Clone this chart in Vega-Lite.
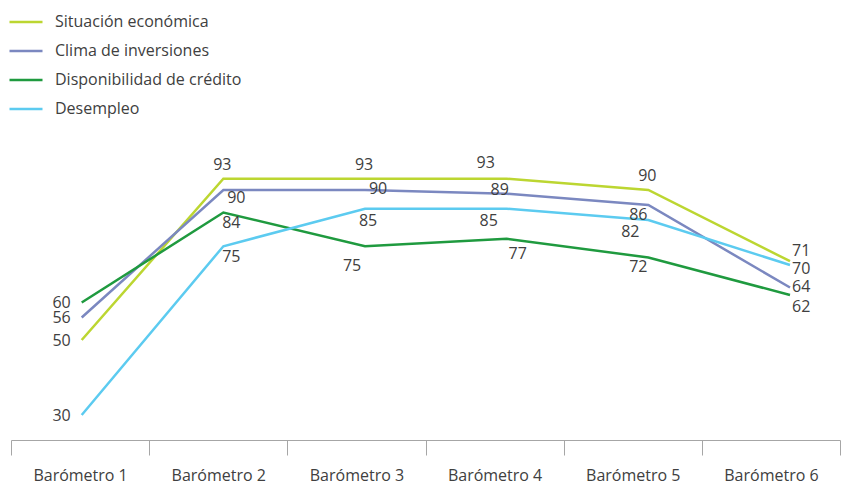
{
  "$schema": "https://vega.github.io/schema/vega-lite/v6.json",
  "width": 829,
  "height": 291,
  "autosize": {"type": "none"},
  "padding": {"left": 11, "top": 149, "right": 4, "bottom": 45},
  "background": "white",
  "config": {
    "view": {"stroke": null},
    "font": "Open Sans",
    "text": {"font": "Open Sans", "fontSize": 16, "color": "#404040", "baseline": "middle", "align": "center"},
    "axis": {
      "labelFont": "Open Sans",
      "labelFontSize": 16,
      "labelColor": "#404040",
      "domainColor": "#a6a6a6",
      "tickColor": "#a6a6a6",
      "grid": false
    },
    "legend": {"labelFont": "Open Sans", "labelFontSize": 16, "labelColor": "#404040"}
  },
  "data": {
    "values": [
      {"b": "Barómetro 1", "s": "Situación económica", "v": 50},
      {"b": "Barómetro 2", "s": "Situación económica", "v": 93},
      {"b": "Barómetro 3", "s": "Situación económica", "v": 93},
      {"b": "Barómetro 4", "s": "Situación económica", "v": 93},
      {"b": "Barómetro 5", "s": "Situación económica", "v": 90},
      {"b": "Barómetro 6", "s": "Situación económica", "v": 71},
      {"b": "Barómetro 1", "s": "Clima de inversiones", "v": 56},
      {"b": "Barómetro 2", "s": "Clima de inversiones", "v": 90},
      {"b": "Barómetro 3", "s": "Clima de inversiones", "v": 90},
      {"b": "Barómetro 4", "s": "Clima de inversiones", "v": 89},
      {"b": "Barómetro 5", "s": "Clima de inversiones", "v": 86},
      {"b": "Barómetro 6", "s": "Clima de inversiones", "v": 64},
      {"b": "Barómetro 1", "s": "Disponibilidad de crédito", "v": 60},
      {"b": "Barómetro 2", "s": "Disponibilidad de crédito", "v": 84},
      {"b": "Barómetro 3", "s": "Disponibilidad de crédito", "v": 75},
      {"b": "Barómetro 4", "s": "Disponibilidad de crédito", "v": 77},
      {"b": "Barómetro 5", "s": "Disponibilidad de crédito", "v": 72},
      {"b": "Barómetro 6", "s": "Disponibilidad de crédito", "v": 62},
      {"b": "Barómetro 1", "s": "Desempleo", "v": 30},
      {"b": "Barómetro 2", "s": "Desempleo", "v": 75},
      {"b": "Barómetro 3", "s": "Desempleo", "v": 85},
      {"b": "Barómetro 4", "s": "Desempleo", "v": 85},
      {"b": "Barómetro 5", "s": "Desempleo", "v": 82},
      {"b": "Barómetro 6", "s": "Desempleo", "v": 70}
    ]
  },
  "layer": [
    {
      "mark": {"type": "rule", "opacity": 0},
      "encoding": {
        "x": {
          "field": "b",
          "type": "nominal",
          "scale": {"type": "band", "paddingInner": 0, "paddingOuter": 0},
          "axis": {
            "title": null,
            "labelAngle": 0,
            "tickBand": "extent",
            "tickSize": 15,
            "labelPadding": 12,
            "domainWidth": 1,
            "tickWidth": 1
          }
        }
      }
    },
    {
      "encoding": {
        "x": {
          "field": "b",
          "type": "nominal",
          "scale": {"type": "point", "padding": 0, "range": [70.7, 779]},
          "axis": null
        },
        "y": {
          "field": "v",
          "type": "quantitative",
          "scale": {"domain": [23.33, 100.93], "zero": false, "nice": false},
          "axis": null
        }
      },
      "layer": [
        {
          "mark": {"type": "line", "strokeWidth": 2.5},
          "encoding": {
            "color": {
              "field": "s",
              "type": "nominal",
              "scale": {
                "domain": ["Situación económica", "Clima de inversiones", "Disponibilidad de crédito", "Desempleo"],
                "range": ["#bcd631", "#7b88c0", "#1f9a3f", "#5ccbf0"]
              },
              "legend": {
                "orient": "none",
                "legendX": -3,
                "legendY": -145,
                "title": null,
                "symbolType": "stroke",
                "symbolSize": 1089,
                "symbolStrokeWidth": 2.5,
                "labelOffset": 11,
                "labelLimit": 400,
                "rowPadding": 3,
                "padding": 0
              }
            }
          }
        },
        {
          "transform": [{"filter": "datum.b == 'Barómetro 1'"}],
          "mark": {"type": "text", "align": "right", "dx": -11, "dy": 1},
          "encoding": {"text": {"field": "v"}}
        },
        {
          "transform": [{"filter": "indexof(['Situación económica|Barómetro 2','Situación económica|Barómetro 3','Situación económica|Barómetro 5'], datum.s + '|' + datum.b) >= 0"}],
          "mark": {"type": "text", "dx": -1, "dy": -14},
          "encoding": {"text": {"field": "v"}}
        },
        {
          "transform": [{"filter": "datum.s + '|' + datum.b == 'Situación económica|Barómetro 4'"}],
          "mark": {"type": "text", "dx": -21, "dy": -16},
          "encoding": {"text": {"field": "v"}}
        },
        {
          "transform": [{"filter": "datum.s + '|' + datum.b == 'Clima de inversiones|Barómetro 2'"}],
          "mark": {"type": "text", "dx": 13, "dy": 8},
          "encoding": {"text": {"field": "v"}}
        },
        {
          "transform": [{"filter": "datum.s + '|' + datum.b == 'Clima de inversiones|Barómetro 3'"}],
          "mark": {"type": "text", "dx": 13, "dy": -1},
          "encoding": {"text": {"field": "v"}}
        },
        {
          "transform": [{"filter": "datum.s + '|' + datum.b == 'Clima de inversiones|Barómetro 4'"}],
          "mark": {"type": "text", "dx": -7, "dy": -4},
          "encoding": {"text": {"field": "v"}}
        },
        {
          "transform": [{"filter": "indexof(['Clima de inversiones|Barómetro 5','Disponibilidad de crédito|Barómetro 5'], datum.s + '|' + datum.b) >= 0"}],
          "mark": {"type": "text", "dx": -10, "dy": 10},
          "encoding": {"text": {"field": "v"}}
        },
        {
          "transform": [{"filter": "indexof(['Disponibilidad de crédito|Barómetro 2','Desempleo|Barómetro 2'], datum.s + '|' + datum.b) >= 0"}],
          "mark": {"type": "text", "dx": 8, "dy": 11},
          "encoding": {"text": {"field": "v"}}
        },
        {
          "transform": [{"filter": "datum.s + '|' + datum.b == 'Desempleo|Barómetro 3'"}],
          "mark": {"type": "text", "dx": 3, "dy": 12},
          "encoding": {"text": {"field": "v"}}
        },
        {
          "transform": [{"filter": "indexof(['Desempleo|Barómetro 4','Desempleo|Barómetro 5'], datum.s + '|' + datum.b) >= 0"}],
          "mark": {"type": "text", "dx": -18, "dy": 12},
          "encoding": {"text": {"field": "v"}}
        },
        {
          "transform": [{"filter": "datum.s + '|' + datum.b == 'Disponibilidad de crédito|Barómetro 3'"}],
          "mark": {"type": "text", "dx": -13, "dy": 20},
          "encoding": {"text": {"field": "v"}}
        },
        {
          "transform": [{"filter": "datum.s + '|' + datum.b == 'Disponibilidad de crédito|Barómetro 4'"}],
          "mark": {"type": "text", "dx": 11, "dy": 15},
          "encoding": {"text": {"field": "v"}}
        },
        {
          "transform": [{"filter": "datum.s + '|' + datum.b == 'Situación económica|Barómetro 6'"}],
          "mark": {"type": "text", "align": "left", "dx": 2, "dy": -10},
          "encoding": {"text": {"field": "v"}}
        },
        {
          "transform": [{"filter": "datum.s + '|' + datum.b == 'Desempleo|Barómetro 6'"}],
          "mark": {"type": "text", "align": "left", "dx": 2, "dy": 4},
          "encoding": {"text": {"field": "v"}}
        },
        {
          "transform": [{"filter": "datum.s + '|' + datum.b == 'Clima de inversiones|Barómetro 6'"}],
          "mark": {"type": "text", "align": "left", "dx": 2, "dy": 0},
          "encoding": {"text": {"field": "v"}}
        },
        {
          "transform": [{"filter": "datum.s + '|' + datum.b == 'Disponibilidad de crédito|Barómetro 6'"}],
          "mark": {"type": "text", "align": "left", "dx": 2, "dy": 12},
          "encoding": {"text": {"field": "v"}}
        }
      ]
    }
  ],
  "resolve": {"scale": {"x": "independent"}}
}
